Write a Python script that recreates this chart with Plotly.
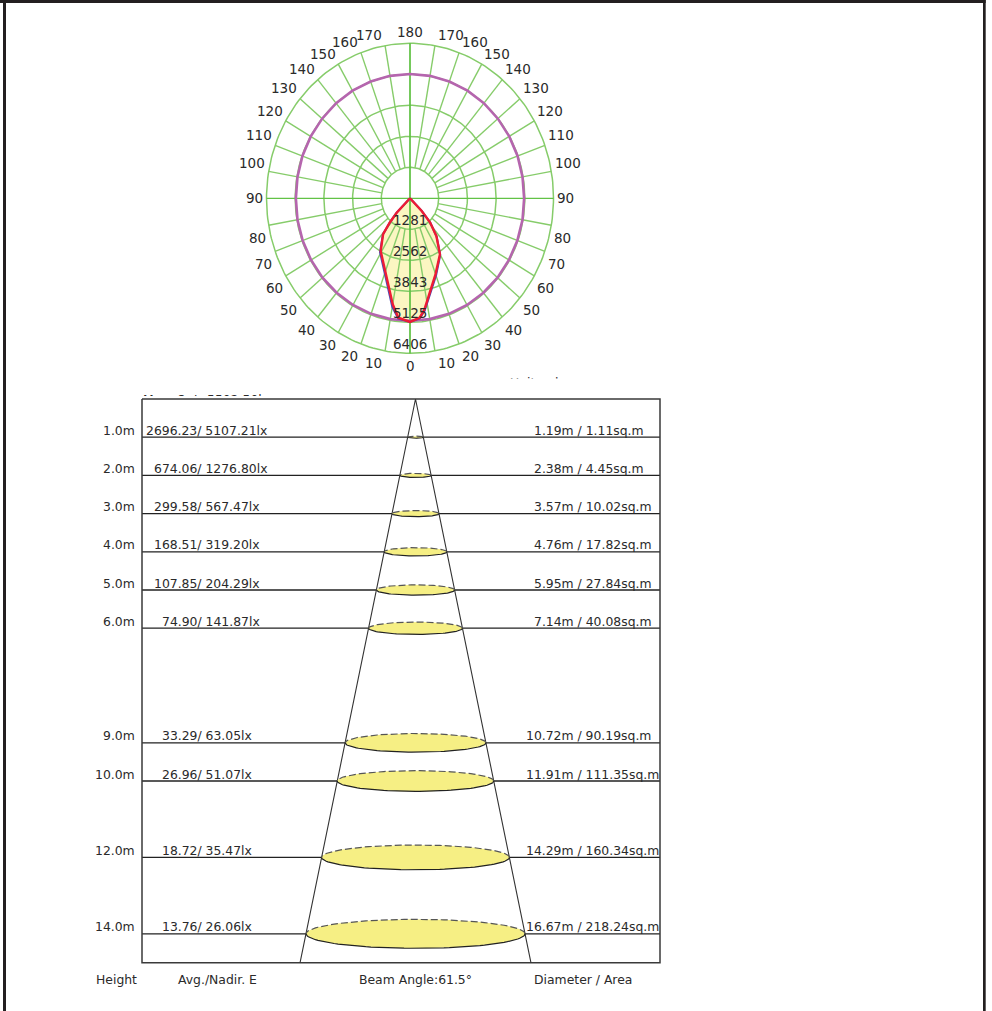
import numpy as np
import plotly.graph_objects as go

# ---------- polar data (cd) ----------
ring_values = [1281, 2562, 3843, 5125, 6406]
spoke_angles = [10, 20, 30, 40, 50, 60, 70, 80, 100, 110, 120, 130, 140, 150, 160, 170]
axis_angles = [0, 90, 180]
tick_angles = [0, 10, 20, 30, 40, 50, 60, 70, 80, 90, 100, 110, 120, 130, 140, 150, 160, 170, 180]

purple_angles = [0, 10, 20, 30, 40, 50, 60, 70, 80, 90, 100, 110, 120, 130, 140, 150, 160, 170, 180]
purple_values = [5060, 5070, 5080, 5090, 5095, 5100, 5100, 5100, 5100, 5095, 5100, 5110, 5115, 5120, 5130, 5135, 5135, 5138, 5138]

red_left_angles = [0, 6, 10, 20, 31, 39, 42, 45, 50]
red_left_values = [5107, 4961, 4445, 3205, 2541, 1907, 1346, 841, 0]
red_right_angles = [0, 5, 8, 20, 30, 37, 42, 45, 50]
red_right_values = [5107, 4953, 4638, 3335, 2675, 1961, 1346, 739, 0]
blue_left_angles = [0, 6, 10, 20, 31, 39, 42, 45, 50]
blue_left_values = [5107, 5000, 4560, 3300, 2600, 1920, 1350, 841, 0]
blue_right_angles = [0, 5, 8, 20, 30, 37, 42, 45, 50]
blue_right_values = [5107, 4980, 4700, 3400, 2700, 1970, 1346, 739, 0]

# ---------- table data ----------
heights = [1, 2, 3, 4, 5, 6, 9, 10, 12, 14]
avg_lux = ["2696.23", "674.06", "299.58", "168.51", "107.85", "74.90", "33.29", "26.96", "18.72", "13.76"]
nadir_lux = ["5107.21", "1276.80", "567.47", "319.20", "204.29", "141.87", "63.05", "51.07", "35.47", "26.06"]
diameters = [1.19, 2.38, 3.57, 4.76, 5.95, 7.14, 10.72, 11.91, 14.29, 16.67]
areas = ["1.11", "4.45", "10.02", "17.82", "27.84", "40.08", "90.19", "111.35", "160.34", "218.24"]
footer = ["Height", "Avg./Nadir. E", "Beam Angle:61.5°", "Diameter / Area"]

# ---------- layout constants ----------
W, H = 992, 1011
FONT = "DejaVu Sans"
TXT = "#2A2A2A"
GREEN = "#86CC6A"
TABLE_SIZE = 12.4

# upper panel scale: pixels per cd, differs per axis as in the source
cx, cy, rx_px, ry_px = 410.0, 198.3, 143.5, 155.0
top_bottom_px = 396.0
sx, sy = rx_px / 6406, ry_px / 6406
x1_range = [-cx / sx, (W - cx) / sx]
y1_range = [-(top_bottom_px - cy) / sy, cy / sy]

# lower panel scale: pixels per metre
bx, by, mx, my = 415.5, 399.0, 13.14, 38.2
x2_range = [-bx / mx, (W - bx) / mx]
y2_range = [(H - by) / my, (top_bottom_px - by) / my]
box_left, box_right = (142 - bx) / mx, (660 - bx) / mx
box_bottom = (962.7 - by) / my
beam_slope = diameters[-1] / 2 / heights[-1]
ellipse_ratio = 0.0271


def to_xy(angles, values, side=1):
    a = np.radians(np.asarray(angles, float))
    v = np.asarray(values, float)
    return (side * v * np.sin(a)).tolist(), (-v * np.cos(a)).tolist()


def outline(la, lv, ra, rv):
    xl, yl = to_xy(la, lv, -1)
    xr, yr = to_xy(ra, rv, 1)
    return xl[::-1] + xr, yl[::-1] + yr


fig = go.Figure()


def line(x, y, color, width, xa="x", ya="y", dash=None):
    fig.add_trace(go.Scatter(x=x, y=y, mode="lines", xaxis=xa, yaxis=ya, hoverinfo="skip",
                             line=dict(color=color, width=width, dash=dash)))


# beam fill under the grid
xf, yf = outline(red_left_angles, red_left_values, red_right_angles, red_right_values)
fig.add_trace(go.Scatter(x=xf, y=yf, mode="lines", fill="toself", fillcolor="#FBF6C2",
                         line=dict(width=0, color="#FBF6C2"), hoverinfo="skip"))

# rings
t = np.linspace(0, 2 * np.pi, 241)
gx, gy = [], []
for r in ring_values:
    gx += (r * np.cos(t)).tolist() + [None]
    gy += (r * np.sin(t)).tolist() + [None]
line(gx, gy, GREEN, 1.5)

# spokes
gx, gy = [], []
for a in spoke_angles:
    for s in (-1, 1):
        xs, ys = to_xy([a, a], [ring_values[0], ring_values[-1]], s)
        gx += xs + [None]
        gy += ys + [None]
line(gx, gy, GREEN, 1.4)
gx, gy = [], []
for a in axis_angles:
    for s in (-1, 1):
        xs, ys = to_xy([a, a], [0, ring_values[-1]], s)
        gx += xs + [None]
        gy += ys + [None]
line(gx, gy, "#62C246", 1.3)

# curves
xl, yl = to_xy(purple_angles, purple_values, -1)
xr, yr = to_xy(purple_angles, purple_values, 1)
line(xl[::-1] + xr[1:], yl[::-1] + yr[1:], "#B565AE", 2.6)
xb, yb = outline(blue_left_angles, blue_left_values, blue_right_angles, blue_right_values)
line(xb, yb, "#4A4AB8", 2)
line(xf, yf, "#EE1B34", 2.4)

# clipped captions: only their upper tips show in the source
fig.add_trace(go.Scatter(x=[(510 - cx) / sx], y=[-(383.5 - cy) / sy], mode="text", text=["Unit: cd"],
                         textposition="middle right", cliponaxis=True, hoverinfo="skip",
                         textfont=dict(family=FONT, size=12.5, color=TXT)))
fig.add_trace(go.Scatter(x=[(143 - cx) / sx], y=[-(400.5 - cy) / sy], mode="text",
                         text=["Max. Out: 5502.50lm"], textposition="middle right", cliponaxis=True,
                         hoverinfo="skip", textfont=dict(family=FONT, size=TABLE_SIZE, color=TXT)))

ann = []


def label(text, x, y, size=12.5, xanchor="center", xs=0, ys=0, xr="x", yr="y"):
    ann.append(dict(text=text, x=x, y=y, xref=xr, yref=yr, xanchor=xanchor, yanchor="middle",
                    xshift=xs, yshift=ys, showarrow=False, align="left",
                    font=dict(family=FONT, size=size, color=TXT)))


# ring value labels
for r in ring_values:
    label(str(r), 0, -r, size=13.5, ys=9)

# angle tick labels
for a in tick_angles:
    xv, yv = to_xy([a], [ring_values[-1]])
    sides = (-1, 1) if 0 < a < 180 else (1,)
    for s in sides:
        if a == 90:
            dx, dy = 11.7, 0
        elif a == 100:
            dx, dy = 16.5, 8
        elif a > 90:
            dx, dy = 15.7, 10.3
        else:
            dx, dy = 11.2, -12.5
        if a == 0:
            dx, dy = 0, -13
        if a == 180:
            dx, dy = 0, 11.7
        label(str(a), s * xv[0], yv[0], size=13.5, xs=s * dx, ys=dy)

# table
hx = []
hy = []
for h, d in zip(heights, diameters):
    hx += [box_left, -d / 2, None, d / 2, box_right, None]
    hy += [h, h, None, h, h, None]
line(hx, hy, "#222222", 1.3, "x2", "y2")
line([box_left, box_right, box_right, box_left, box_left],
     [0, 0, box_bottom, box_bottom, 0], "#3A3A3A", 1.5, "x2", "y2")
line([-beam_slope * box_bottom, 0, beam_slope * box_bottom], [box_bottom, 0, box_bottom], "#333333", 1.1, "x2", "y2")

th = np.linspace(0, np.pi, 61)
for h, d in zip(heights, diameters):
    ex = d / 2 * np.cos(th)
    ey = ellipse_ratio * h * np.sin(th)
    fig.add_trace(go.Scatter(x=np.r_[ex, ex[::-1]].tolist(), y=np.r_[h - ey, h + ey[::-1]].tolist(),
                             mode="lines", fill="toself", fillcolor="#F6EF84", xaxis="x2", yaxis="y2",
                             line=dict(width=0, color="#F6EF84"), hoverinfo="skip"))
    line(ex.tolist(), (h - ey).tolist(), "#555555", 1.2, "x2", "y2", dash="7px,3px")
    line(ex.tolist(), (h + ey).tolist(), "#222222", 1.2, "x2", "y2")

for i, h in enumerate(heights):
    label(f"{h:.1f}m", (137 - bx) / mx, h, xanchor="right", ys=7, xr="x2", yr="y2", size=TABLE_SIZE)
    lx = 144 + 8 * (7 - len(avg_lux[i]))
    label(f"{avg_lux[i]}/ {nadir_lux[i]}lx", (lx - bx) / mx, h, xanchor="left", ys=7, xr="x2", yr="y2", size=TABLE_SIZE)
    rx = 532 - 8 * (len(f"{diameters[i]:.2f}") - 4)
    label(f"{diameters[i]:.2f}m / {areas[i]}sq.m", (rx - bx) / mx, h, xanchor="left", ys=7, xr="x2", yr="y2", size=TABLE_SIZE)

for text, px in zip(footer, [116, 217, 415, 583]):
    label(text, (px - bx) / mx, (979 - by) / my, xr="x2", yr="y2", size=TABLE_SIZE)

shapes = [
    # page frame
    dict(type="rect", xref="paper", yref="paper", x0=0, x1=985.7 / W, y0=1 - 3 / H, y1=1,
         fillcolor="#231F20", line_width=0, layer="above"),
    dict(type="rect", xref="paper", yref="paper", x0=3 / W, x1=6 / W, y0=0, y1=1,
         fillcolor="#231F20", line_width=0, layer="above"),
    dict(type="rect", xref="paper", yref="paper", x0=983 / W, x1=985.7 / W, y0=0, y1=1,
         fillcolor="#231F20", line_width=0, layer="above"),
    # hides the lower part of the unit caption
    dict(type="rect", xref="paper", yref="paper", x0=490 / W, x1=600 / W, y0=1 - 396 / H, y1=1 - 378.6 / H,
         fillcolor="white", line_width=0, layer="above"),
]

axis = dict(visible=False, showgrid=False, zeroline=False, fixedrange=True)
fig.update_layout(
    width=W, height=H, margin=dict(l=0, r=0, t=0, b=0), showlegend=False,
    paper_bgcolor="white", plot_bgcolor="rgba(0,0,0,0)",
    xaxis=dict(axis, range=x1_range, domain=[0, 1]),
    yaxis=dict(axis, range=y1_range, domain=[1 - top_bottom_px / H, 1]),
    xaxis2=dict(axis, range=x2_range, domain=[0, 1], anchor="y2"),
    yaxis2=dict(axis, range=y2_range, domain=[0, 1 - top_bottom_px / H], anchor="x2"),
    annotations=ann, shapes=shapes,
)

fig.write_html("out.html", config=dict(displayModeBar=False),
               post_script="document.body.style.margin='0';document.documentElement.style.overflow='hidden';")
